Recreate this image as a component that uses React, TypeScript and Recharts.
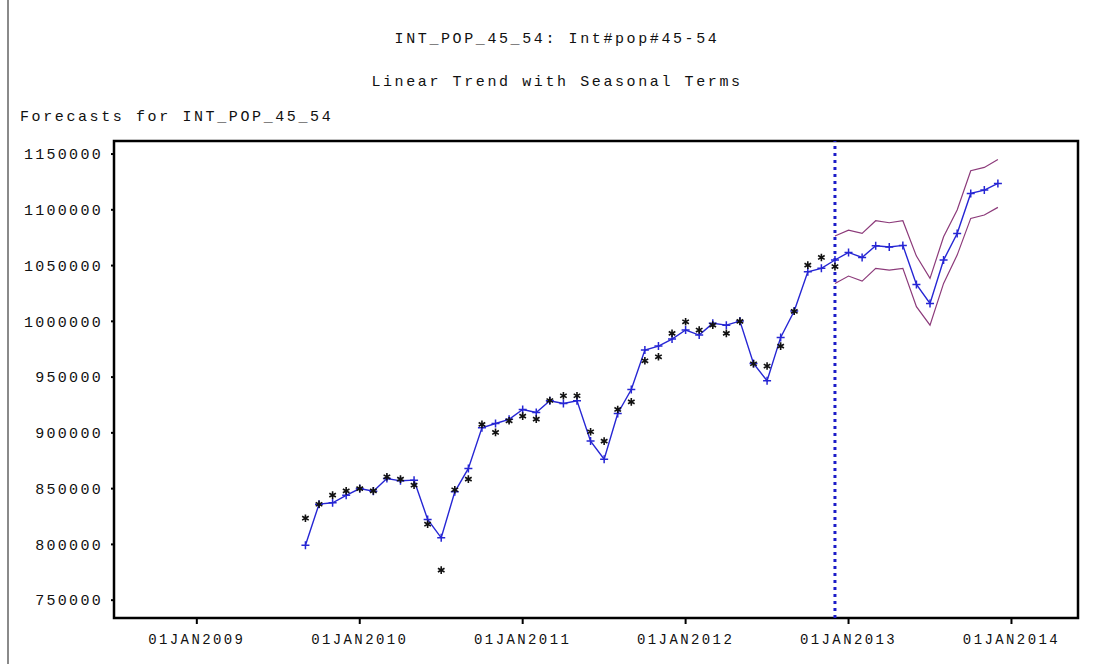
import React from 'react';
import {
  ComposedChart,
  Line,
  XAxis,
  YAxis,
  ReferenceLine,
  ReferenceArea,
} from 'recharts';

// month index on the x axis: 0 = Jan 2009
const firstMonth = 8; // Sep 2009
const bandStart = 47; // Dec 2012, where the forecast bands begin

// observed values, Sep 2009 .. Dec 2012
const actualValues = [
  823500, 836000, 844200, 848000,
  850000, 848000, 860600, 858500, 853100, 818100, 776900, 849000, 858500, 907600, 900400, 910800,
  915000, 912300, 929000, 933300, 933300, 901000, 892600, 921000, 927800, 964600, 968200, 989200,
  999600, 992200, 996600, 989200, 1000000, 962000, 959900, 977800, 1009000, 1050400, 1057300, 1049100,
];

// one-step / forecast values, Sep 2009 .. Dec 2013
const forecastValues = [
  799300, 836100, 837300, 844000,
  850100, 847700, 859100, 857000, 857600, 822400, 805900, 847100, 868100, 904500, 908400, 912100,
  921000, 918300, 928800, 926400, 928800, 892600, 876400, 917400, 938900, 974200, 977800, 984100,
  992200, 987700, 998200, 996600, 1000200, 962300, 946700, 985600, 1009200, 1044400, 1047500, 1055000,
  1061800, 1057300, 1067800, 1066600, 1068100, 1033100, 1016100, 1054900, 1078800, 1114700, 1117700, 1123700,
];

// confidence limits, Dec 2012 .. Dec 2013
const upperValues = [
  1076500, 1081800, 1078800, 1090200, 1088400, 1090200, 1058500, 1038500, 1075900, 1099800, 1135000, 1138000, 1145200,
];
const lowerValues = [
  1034000, 1040600, 1036100, 1047500, 1046000, 1047500, 1013100, 996600, 1034000, 1059400, 1092300, 1095300, 1102200,
];

const xTicks = [0, 12, 24, 36, 48, 60];
const xTickLabels = ['01JAN2009', '01JAN2010', '01JAN2011', '01JAN2012', '01JAN2013', '01JAN2014'];
const yTicks = [750000, 800000, 850000, 900000, 950000, 1000000, 1050000, 1100000, 1150000];

const xDomain: [number, number] = [-6.1, 64.9];
const yDomain: [number, number] = [734000, 1161700];

const data = forecastValues.map((f, i) => {
  const t = firstMonth + i;
  const b = t - bandStart;
  return {
    t,
    actual: i < actualValues.length ? actualValues[i] : null,
    forecast: f,
    upper: b >= 0 ? upperValues[b] : null,
    lower: b >= 0 ? lowerValues[b] : null,
  };
});

const mono = '"Liberation Mono", "Courier New", monospace';

const PlusDot = (props: any) => {
  const { cx, cy, index } = props;
  if (cx == null || cy == null) return <g key={`p${index}`} />;
  return (
    <path
      key={`p${index}`}
      d={`M${cx - 4},${cy}H${cx + 4}M${cx},${cy - 4}V${cy + 4}`}
      stroke="#2626d4"
      strokeWidth={1.5}
    />
  );
};

const StarDot = (props: any) => {
  const { cx, cy, index, value } = props;
  if (cx == null || cy == null || value == null) return <g key={`s${index}`} />;
  const r = 3.8;
  const dx = r * 0.87;
  const dy = r * 0.5;
  return (
    <path
      key={`s${index}`}
      d={`M${cx},${cy - r}V${cy + r}M${cx - dx},${cy - dy}L${cx + dx},${cy + dy}M${cx - dx},${cy + dy}L${cx + dx},${cy - dy}`}
      stroke="#111"
      strokeWidth={1.6}
    />
  );
};

const YTick = (props: any) => {
  const { x, y, payload } = props;
  return (
    <text x={x} y={y} dy="0.35em" textAnchor="end" fill="#111" fontFamily={mono} fontSize={15} letterSpacing={2.3}>
      {payload.value}
    </text>
  );
};

const XTick = (props: any) => {
  const { x, y, payload } = props;
  return (
    <text x={x} y={y} dy="0.71em" textAnchor="middle" fill="#111" fontFamily={mono} fontSize={14} letterSpacing={2.4}>
      {xTickLabels[xTicks.indexOf(payload.value)]}
    </text>
  );
};

const textStyle: React.CSSProperties = {
  position: 'absolute',
  fontFamily: mono,
  fontSize: 15,
  letterSpacing: 2.6,
  color: '#111',
  whiteSpace: 'pre',
  lineHeight: '16px',
};

export default function App() {
  return (
    <div style={{ position: 'absolute', left: 0, top: 0, width: 1101, height: 664, background: '#fff', overflow: 'hidden' }}>
      <div style={{ position: 'absolute', left: 7, top: 0, width: 2, height: 664, background: '#8a8a8a' }} />
      <div style={{ ...textStyle, left: 0, width: 1114, top: 32, textAlign: 'center' }}>INT_POP_45_54: Int#pop#45-54</div>
      <div style={{ ...textStyle, left: 0, width: 1114, top: 75, textAlign: 'center' }}>Linear Trend with Seasonal Terms</div>
      <div style={{ ...textStyle, left: 20, top: 110 }}>Forecasts for INT_POP_45_54</div>
      <ComposedChart
        width={1101}
        height={664}
        data={data}
        margin={{ top: 141, right: 23, bottom: 0, left: 0 }}
      >
        <XAxis
          dataKey="t"
          type="number"
          domain={xDomain}
          allowDataOverflow
          ticks={xTicks}
          interval={0}
          axisLine={false}
          tickLine={{ stroke: '#000', strokeWidth: 2 }}
          tickSize={6}
          tickMargin={10}
          height={46}
          tick={<XTick />}
        />
        <YAxis
          type="number"
          domain={yDomain}
          allowDataOverflow
          ticks={yTicks}
          interval={0}
          axisLine={false}
          tickLine={{ stroke: '#000', strokeWidth: 2 }}
          tickSize={3}
          tickMargin={8}
          width={114}
          tick={<YTick />}
        />
        <ReferenceArea
          x1={xDomain[0]}
          x2={xDomain[1]}
          y1={yDomain[0]}
          y2={yDomain[1]}
          fill="#fff"
          fillOpacity={0}
          stroke="#000"
          strokeWidth={2.5}
          ifOverflow="visible"
        />
        <ReferenceLine x={bandStart} stroke="#1c1cc8" strokeWidth={3} strokeDasharray="3 4" />
        <Line dataKey="upper" stroke="#8c3a7a" strokeWidth={1.2} dot={false} activeDot={false} connectNulls={false} isAnimationActive={false} />
        <Line dataKey="lower" stroke="#8c3a7a" strokeWidth={1.2} dot={false} activeDot={false} connectNulls={false} isAnimationActive={false} />
        <Line dataKey="forecast" stroke="#2626d4" strokeWidth={1.4} dot={<PlusDot />} activeDot={false} isAnimationActive={false} />
        <Line dataKey="actual" stroke="none" dot={<StarDot />} activeDot={false} isAnimationActive={false} />
      </ComposedChart>
    </div>
  );
}
